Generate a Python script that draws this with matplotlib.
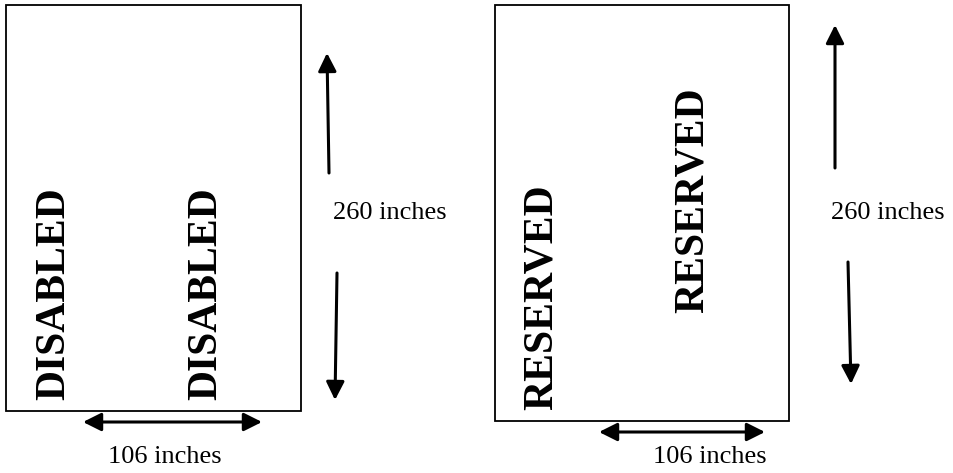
import matplotlib
matplotlib.use("Agg")
import matplotlib.pyplot as plt
from matplotlib.patches import Rectangle

# Data (pixel-space layout of the diagram)
panel_labels = ["DISABLED", "RESERVED"]
width_label = "106 inches"
height_label = "260 inches"

# rectangles: (x0, y0, x1, y1)
rects = [(6, 5, 301, 411), (495, 5, 789, 421)]
# rotated labels: (x center, y bottom, text)
labels = [(54, 400, "DISABLED"), (206, 400, "DISABLED"),
          (542, 410, "RESERVED"), (693, 313, "RESERVED")]
# double arrows horizontal: (x0, x1, y)
h_arrows = [(83, 262, 422), (599, 765, 432)]
h_text = [(165, 457), (710, 457)]
# vertical arrows: (x_tail, y_tail, x_tip, y_tip)
v_arrows = [(329, 173, 327, 53), (337, 273, 335, 400),
            (835, 168, 835, 25), (848, 262, 851, 384)]
v_text = [(390, 213), (888, 213)]

fig = plt.figure(figsize=(9.54, 4.73), dpi=100)
ax = fig.add_axes([0, 0, 1, 1])
ax.set_xlim(0, 954)
ax.set_ylim(473, 0)
ax.axis("off")

serif = ["Liberation Serif", "DejaVu Serif"]

for x0, y0, x1, y1 in rects:
    ax.add_patch(Rectangle((x0, y0), x1 - x0, y1 - y0, fill=False,
                           edgecolor="black", linewidth=1.3))

for x, yb, t in labels:
    ax.text(x, yb, t, rotation=90, ha="center", va="bottom",
            fontsize=30, fontweight="bold", family=serif, color="black")

for x0, x1, y in h_arrows:
    ax.annotate("", xy=(x0, y), xytext=(x1, y),
                arrowprops=dict(arrowstyle="<|-|>,head_length=1.1,head_width=0.55",
                                color="black", lw=2.2, shrinkA=0, shrinkB=0))
for x, y in h_text:
    ax.text(x, y, width_label, ha="center", va="center", fontsize=19, family=serif)

for xt, yt, xh, yh in v_arrows:
    ax.annotate("", xy=(xh, yh), xytext=(xt, yt),
                arrowprops=dict(arrowstyle="-|>,head_length=1.1,head_width=0.55",
                                color="black", lw=2.2, shrinkA=0, shrinkB=0))
for x, y in v_text:
    ax.text(x, y, height_label, ha="center", va="center", fontsize=19, family=serif)

fig.savefig("out.png", dpi=100)
